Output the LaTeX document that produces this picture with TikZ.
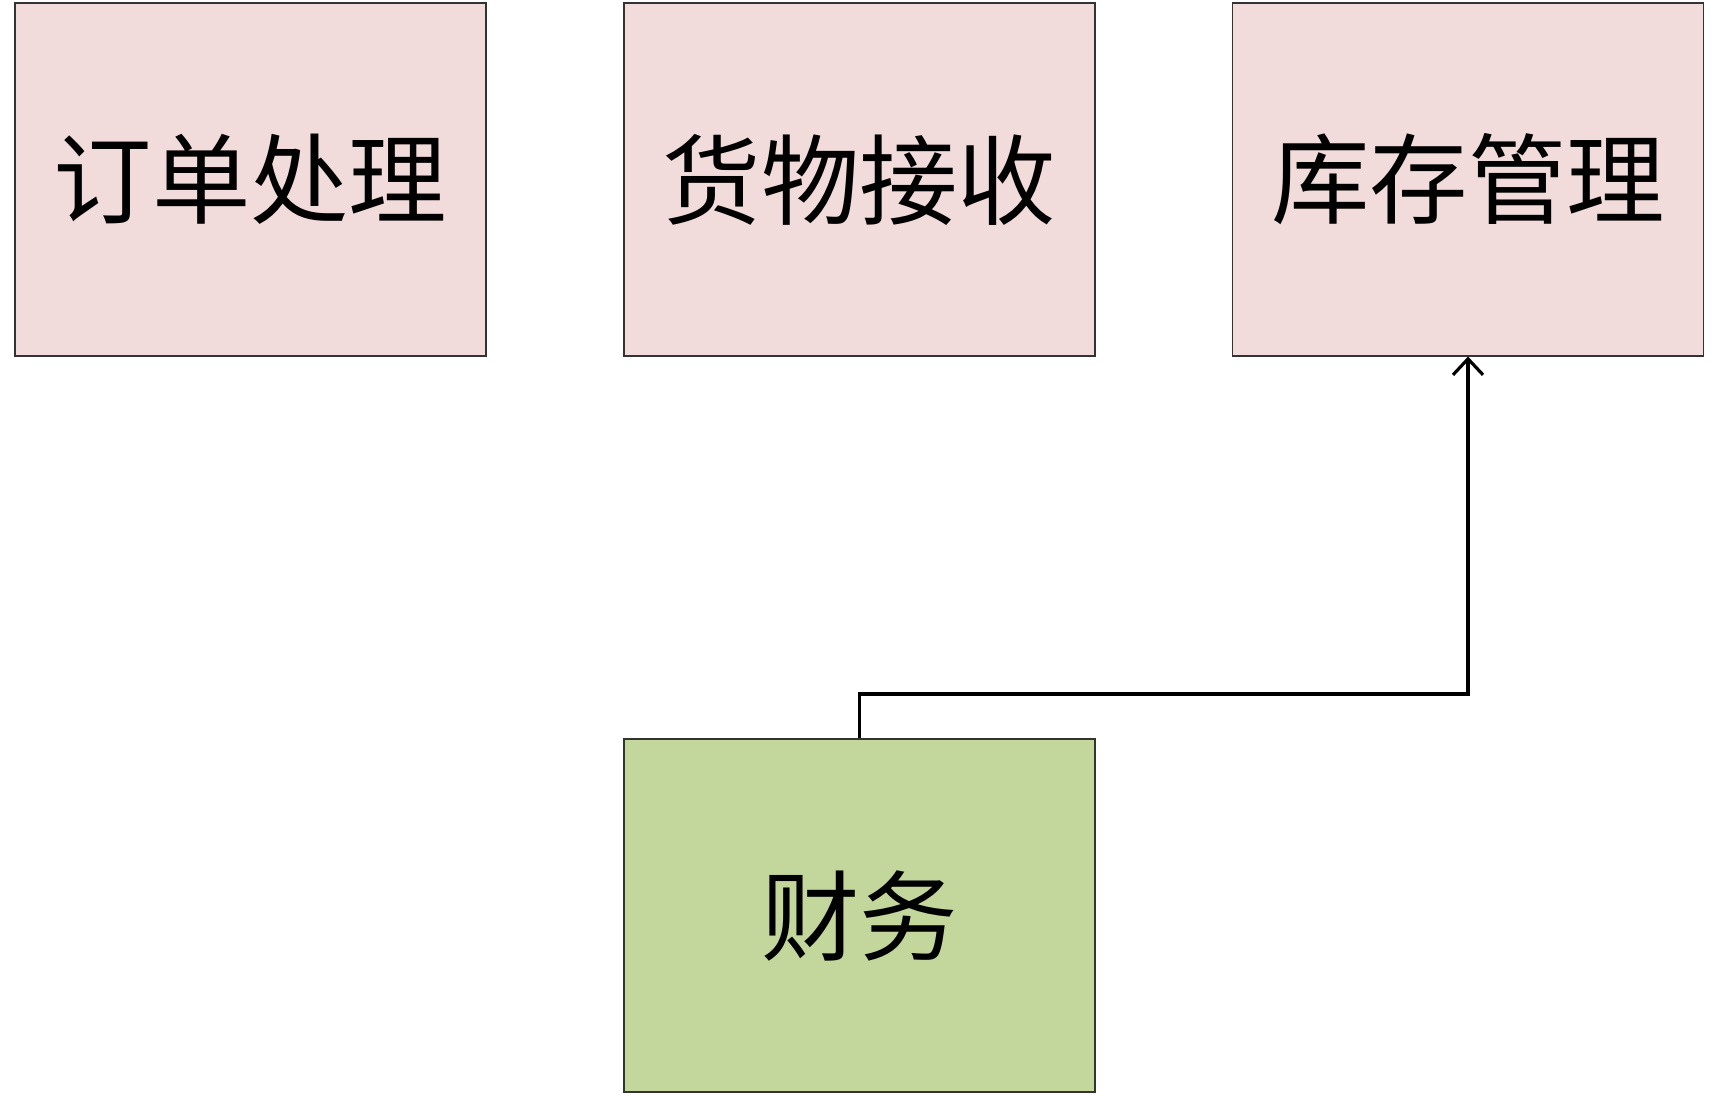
\documentclass[tikz,border=0pt]{standalone}
\usepackage{fontspec}
\newfontfamily\cjk{Noto Sans CJK SC}
\usetikzlibrary{positioning, arrows.meta}
\definecolor{boxpink}{RGB}{242,220,219}
\definecolor{boxgreen}{RGB}{195,214,155}

\begin{document}
\begin{tikzpicture}[
    module/.style={draw=black!80, line width=0.6pt, fill=boxpink,
      minimum width=9.42cm, minimum height=7.06cm, inner sep=0pt,
      font=\cjk\fontsize{56}{60}\selectfont},
    flow/.style={line width=1.8pt, -{Straight Barb[length=0.32cm, width=0.6cm, line width=1.8pt]}}
  ]
  \useasboundingbox (0,0) rectangle (34.38,-21.88);
  \node[module] (dd) at (5.01, -3.59) {订单处理};
  \node[module] (hw) at (17.19, -3.59) {货物接收};
  \node[module] (kc) at (29.36, -3.59) {库存管理};
  \node[module, fill=boxgreen] (cw) at (17.19, -18.31) {财务};
  \coordinate (bend) at (17.19, -13.88);
  \draw[flow] (cw.north) -- (bend) -| (kc.south);
\end{tikzpicture}
\end{document}
